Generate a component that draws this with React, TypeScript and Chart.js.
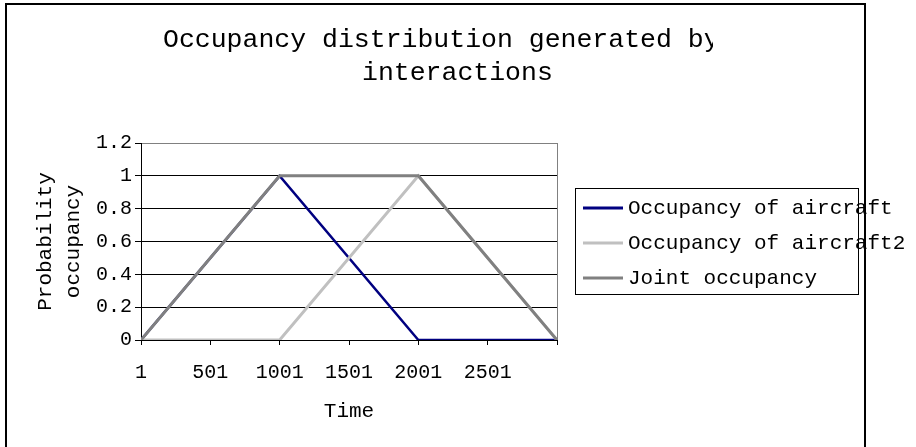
import { useEffect, useRef } from 'react';
import { Chart, registerables } from 'chart.js';

Chart.register(...registerables);

// ---- Data ----
const TIME = [1, 1001, 2001, 3001];
const AIRCRAFT_1 = [0, 1, 0, 0];
const AIRCRAFT_2 = [0, 0, 1, 0];
const JOINT = [0, 1, 1, 0];

const X_TICKS = [1, 501, 1001, 1501, 2001, 2501, 3001];
const X_TICK_LABELS = ['1', '501', '1001', '1501', '2001', '2501'];
const Y_TICKS = [0, 0.2, 0.4, 0.6, 0.8, 1, 1.2];
const Y_TICK_LABELS = ['0', '0.2', '0.4', '0.6', '0.8', '1', '1.2'];

const SERIES_NAMES = ['Occupancy of aircraft', 'Occupancy of aircraft2', 'Joint occupancy'];
const TITLE_LINES = ['Occupancy distribution generated by', 'interactions'];
const X_TITLE = 'Time';
const Y_TITLE = ['Probability', 'occupancy'];

const FONT = '"Courier New", "Liberation Mono", "DejaVu Sans Mono", monospace';

const whiteBg = {
  id: 'whiteBg',
  beforeDraw(chart: any) {
    const ctx = chart.ctx;
    ctx.save();
    ctx.fillStyle = '#ffffff';
    ctx.fillRect(0, 0, chart.width, chart.height);
    ctx.restore();
  },
};

const plotEdge = {
  id: 'plotEdge',
  beforeDatasetsDraw(chart: any) {
    const { ctx, chartArea } = chart;
    ctx.save();
    ctx.strokeStyle = '#808080';
    ctx.lineWidth = 1;
    ctx.beginPath();
    const x = Math.round(chartArea.right) + 0.5;
    ctx.moveTo(x, chartArea.top);
    ctx.lineTo(x, chartArea.bottom);
    ctx.stroke();
    ctx.restore();
  },
};

const titlePlugin = {
  id: 'excelTitle',
  afterDraw(chart: any) {
    const ctx = chart.ctx;
    ctx.save();
    ctx.beginPath();
    ctx.rect(0, 0, 713, chart.height);
    ctx.clip();
    ctx.font = `26.5px ${FONT}`;
    ctx.fillStyle = '#000000';
    ctx.textAlign = 'left';
    ctx.textBaseline = 'alphabetic';
    ctx.fillText(TITLE_LINES[0], 163, 47);
    ctx.fillText(TITLE_LINES[1], 362, 80);
    ctx.restore();
  },
};

const legendPlugin = {
  id: 'excelLegend',
  afterDraw(chart: any) {
    const ctx = chart.ctx;
    ctx.save();
    ctx.fillStyle = '#ffffff';
    ctx.fillRect(575.5, 188.5, 283, 106);
    ctx.strokeStyle = '#000000';
    ctx.lineWidth = 1;
    ctx.strokeRect(575.5, 188.5, 283, 106);
    ctx.font = `21px ${FONT}`;
    ctx.textAlign = 'left';
    ctx.textBaseline = 'middle';
    chart.data.datasets.forEach((ds: any, i: number) => {
      const y = 208 + i * 35;
      ctx.strokeStyle = ds.borderColor;
      ctx.lineWidth = 3;
      ctx.beginPath();
      ctx.moveTo(583, y);
      ctx.lineTo(623, y);
      ctx.stroke();
      ctx.fillStyle = '#000000';
      ctx.fillText(ds.label, 628, y);
    });
    ctx.restore();
  },
};

const framePlugin = {
  id: 'excelFrame',
  afterDraw(chart: any) {
    const ctx = chart.ctx;
    ctx.save();
    ctx.strokeStyle = '#000000';
    ctx.lineWidth = 2;
    ctx.strokeRect(6, 4, 859, 520);
    ctx.restore();
  },
};

export default function App() {
  const canvasRef = useRef<HTMLCanvasElement | null>(null);

  useEffect(() => {
    const canvas = canvasRef.current;
    if (!canvas) return;
    const toPoints = (ys: number[]) => TIME.map((x, i) => ({ x, y: ys[i] }));
    const chart = new Chart(canvas, {
      type: 'line',
      data: {
        datasets: [
          {
            label: SERIES_NAMES[0],
            data: toPoints(AIRCRAFT_1),
            borderColor: '#000080',
            borderWidth: 2.5,
            pointRadius: 0,
            tension: 0,
            order: 2,
          },
          {
            label: SERIES_NAMES[1],
            data: toPoints(AIRCRAFT_2),
            borderColor: '#c0c0c0',
            borderWidth: 3,
            pointRadius: 0,
            tension: 0,
            order: 1,
          },
          {
            label: SERIES_NAMES[2],
            data: toPoints(JOINT),
            borderColor: '#808080',
            borderWidth: 3,
            pointRadius: 0,
            tension: 0,
            order: 0,
          },
        ],
      },
      options: {
        responsive: false,
        animation: false,
        events: [],
        layout: { padding: { left: 0, top: 143, right: 359, bottom: 0 } },
        plugins: {
          legend: { display: false },
          title: { display: false },
          tooltip: { enabled: false },
        },
        scales: {
          x: {
            type: 'linear',
            min: 1,
            max: 3001,
            afterBuildTicks: (scale: any) => {
              scale.ticks = X_TICKS.map((value) => ({ value }));
            },
            afterFit: (scale: any) => {
              scale.height = 107;
            },
            ticks: {
              autoSkip: false,
              maxRotation: 0,
              padding: 16,
              color: '#000000',
              font: { family: FONT, size: 20 },
              callback: (_v: any, index: number) => X_TICK_LABELS[index] ?? '',
            },
            grid: {
              drawOnChartArea: false,
              drawTicks: true,
              tickLength: 5,
              color: '#000000',
              tickColor: '#000000',
            },
            border: { display: true, color: '#000000', width: 1 },
            title: {
              display: true,
              text: X_TITLE,
              color: '#000000',
              font: { family: FONT, size: 21, lineHeight: 1.2 },
              padding: { top: 0, bottom: 23 },
            },
          },
          y: {
            type: 'linear',
            min: 0,
            max: 1.2,
            afterBuildTicks: (scale: any) => {
              scale.ticks = Y_TICKS.map((value) => ({ value }));
            },
            afterFit: (scale: any) => {
              scale.width = 141;
            },
            ticks: {
              padding: 3,
              color: '#000000',
              font: { family: FONT, size: 20 },
              callback: (_v: any, index: number) => Y_TICK_LABELS[index] ?? '',
            },
            grid: {
              drawTicks: true,
              tickLength: 6,
              color: (c: any) => (c.tick && c.tick.value === 1.2 ? '#808080' : '#000000'),
              tickColor: '#000000',
            },
            border: { display: true, color: '#000000', width: 1 },
            title: {
              display: true,
              text: Y_TITLE,
              color: '#000000',
              font: { family: FONT, size: 21, lineHeight: '28px' },
              padding: { top: 31, bottom: 0 },
            },
          },
        },
      } as any,
      plugins: [whiteBg, plotEdge, titlePlugin, legendPlugin, framePlugin],
    });
    return () => chart.destroy();
  }, []);

  return (
    <div style={{ position: 'absolute', left: 0, top: 0, width: 916, height: 447 }}>
      <canvas ref={canvasRef} width={916} height={447} style={{ display: 'block' }} />
    </div>
  );
}
